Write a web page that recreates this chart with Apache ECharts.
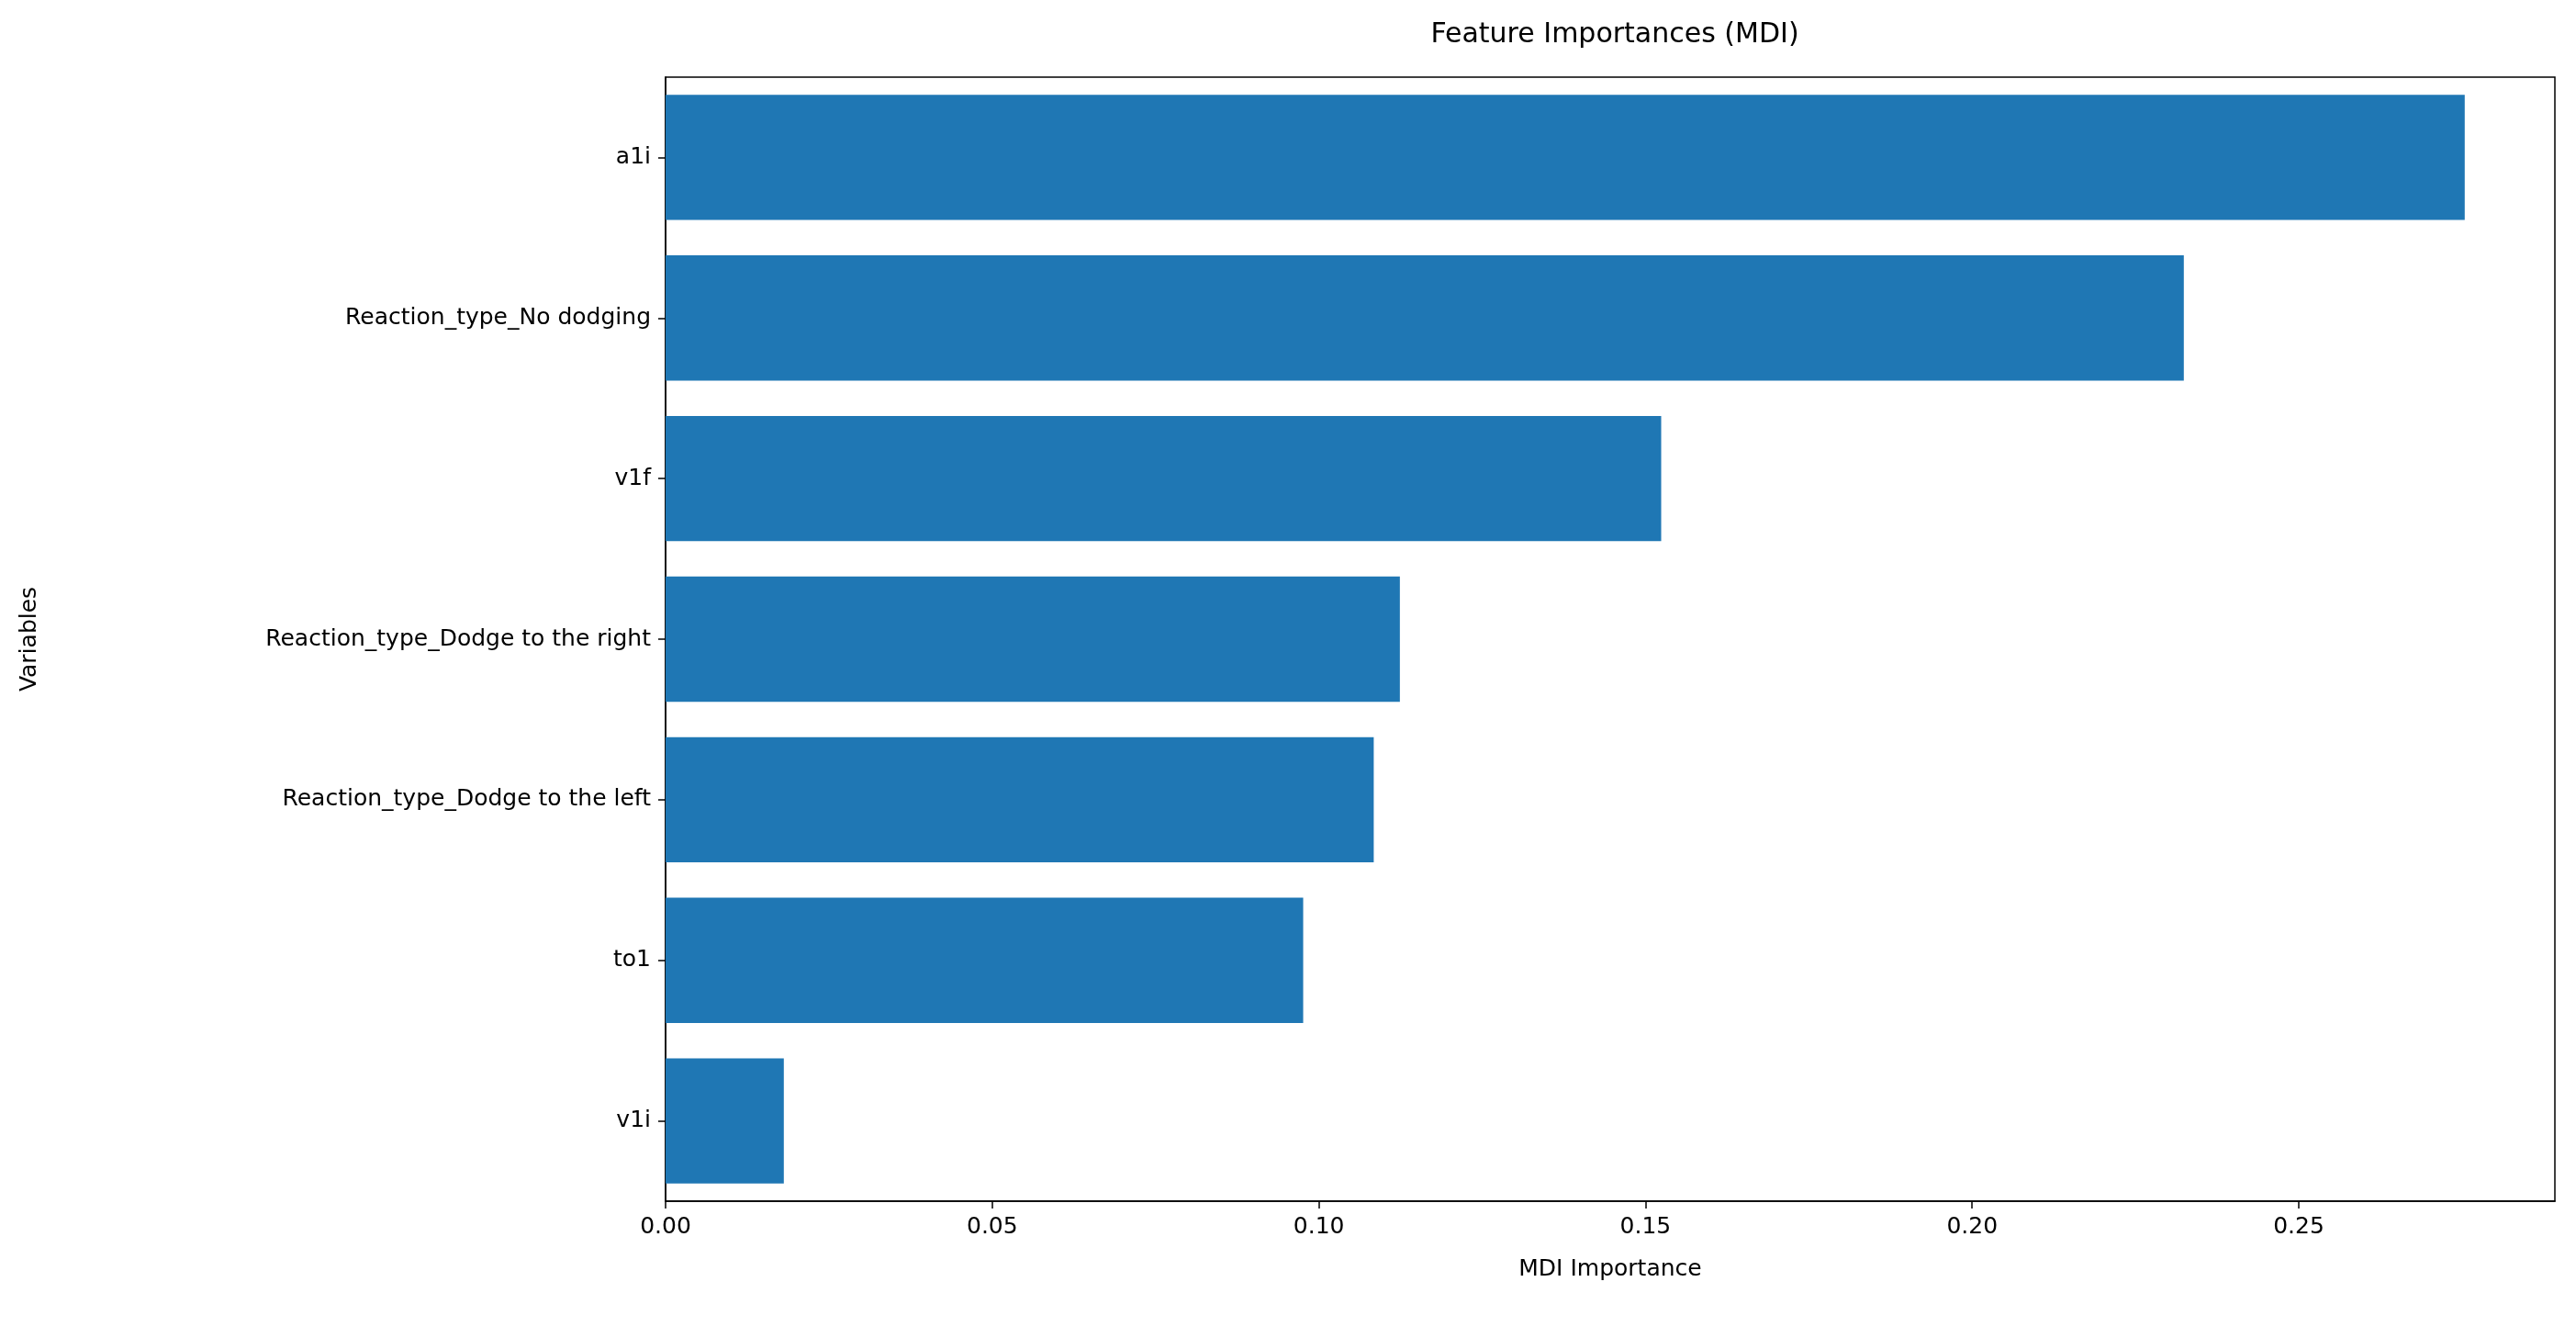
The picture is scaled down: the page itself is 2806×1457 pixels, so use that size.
<!DOCTYPE html>
<html>
<head>
<meta charset="utf-8">
<script src="https://cdn.jsdelivr.net/npm/echarts@6/dist/echarts.min.js"></script>
<style>
  html, body { margin: 0; padding: 0; background: #fff; }
  #chart { width: 2806px; height: 1457px; }
</style>
</head>
<body>
<div id="chart"></div>
<script>
// feature names, top to bottom
const features = [
    "a1i",
    "Reaction_type_No dodging",
    "v1f",
    "Reaction_type_Dodge to the right",
    "Reaction_type_Dodge to the left",
    "to1",
    "v1i"
]
const importances = [0.2754, 0.2324, 0.1524, 0.1124, 0.1084, 0.0976, 0.0181]

const font = "DejaVu Sans"
const chart = echarts.init(document.getElementById("chart"))

chart.setOption({
    animation: false,
    title: {
        text: "Feature Importances (MDI)",
        left: 1754, top: 18, textAlign: "center",
        textStyle: { fontFamily: font, fontSize: 30, fontWeight: "normal", color: "#000" }
    },
    grid: {
        left: 725, right: 23, top: 84, bottom: 149,
        show: true, borderColor: "#000", borderWidth: 1.5, backgroundColor: "transparent"
    },
    xAxis: {
        type: "value",
        min: 0, max: 0.2892, interval: 0.05,
        name: "MDI Importance", nameLocation: "middle", nameGap: 62,
        nameTextStyle: { fontFamily: font, fontSize: 25, color: "#000" },
        axisLine: { show: true, lineStyle: { color: "#000", width: 1.5 } },
        axisTick: { show: true, length: 8, lineStyle: { color: "#000", width: 1.5 } },
        splitLine: { show: false },
        axisLabel: {
            fontFamily: font, fontSize: 25, color: "#000", margin: 16,
            showMaxLabel: false,
            formatter: v => v.toFixed(2)
        }
    },
    yAxis: {
        type: "category",
        data: features,
        inverse: true,
        name: "Variables", nameLocation: "middle", nameGap: 680, nameRotate: 90,
        nameTextStyle: { fontFamily: font, fontSize: 25, color: "#000" },
        axisLine: { show: true, lineStyle: { color: "#000", width: 1.5 } },
        axisTick: { show: true, alignWithLabel: true, length: 8, lineStyle: { color: "#000", width: 1.5 } },
        axisLabel: { fontFamily: font, fontSize: 25, color: "#000", margin: 16 }
    },
    series: [{
        type: "bar",
        data: importances,
        barCategoryGap: "22%",
        itemStyle: { color: "#1f77b4" }
    }]
})
</script>
</body>
</html>
